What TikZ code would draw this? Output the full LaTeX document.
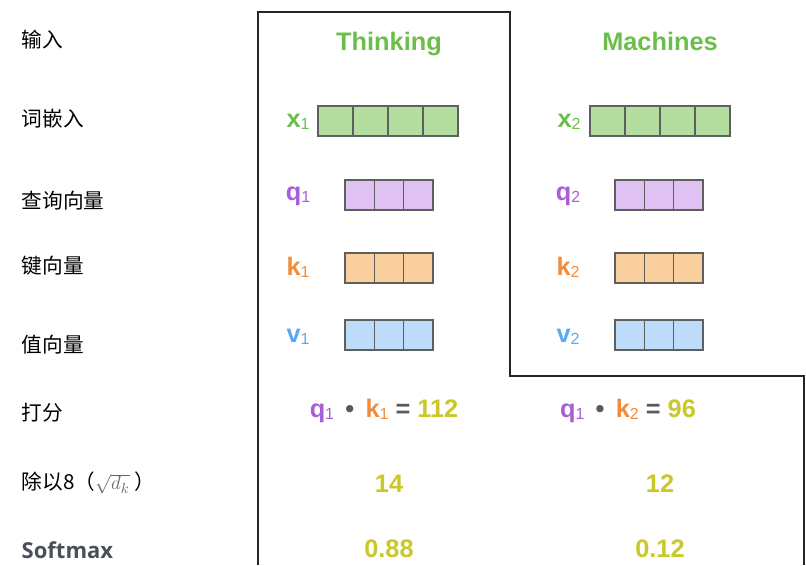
\documentclass[tikz,border=0pt]{standalone}
\usepackage{fontspec}
\setmainfont{Liberation Sans}
\newfontfamily\cjk{Noto Sans CJK SC}
\newfontfamily\softfont{Open Sans}
\usetikzlibrary{positioning}
\usepackage{xcolor}
\definecolor{tWord}{RGB}{108, 190, 74}
\definecolor{cEmb}{RGB}{179, 222, 160}
\definecolor{tQ}{RGB}{167, 94, 214}
\definecolor{cQ}{RGB}{223, 193, 243}
\definecolor{tK}{RGB}{240, 140, 58}
\definecolor{cK}{RGB}{249, 208, 158}
\definecolor{tV}{RGB}{90, 168, 240}
\definecolor{cV}{RGB}{188, 220, 250}
\definecolor{tNum}{RGB}{200, 200, 40}
\definecolor{tOp}{RGB}{85, 90, 95}
\definecolor{bCell}{RGB}{95, 95, 95}
\definecolor{tSoft}{RGB}{75, 80, 88}
\newcommand{\idx}[1]{\raisebox{-1.5pt}{\fontsize{12}{12}\selectfont\mdseries #1}}

\begin{document}
\begin{tikzpicture}[
    x=0.75pt, y=-0.75pt,
    font=\fontsize{19}{20}\selectfont\bfseries,
    rowlabel/.style={anchor=west, font=\cjk\fontsize{15.5}{17}\selectfont, text=black},
    word/.style={text=tWord, anchor=base},
    vlabel/.style={text=#1, inner sep=1pt},
    cell/.style={draw=bCell, line width=0.9pt, fill=#1, minimum height=22.5pt, inner sep=0pt},
    wide/.style={cell=#1, minimum width=26.25pt},
    narrow/.style={cell=#1, minimum width=22pt},
    num/.style={text=tNum},
    frame/.style={draw=black!85, line width=1.5pt}
]
\useasboundingbox (0,0) rectangle (806,565);

% Row labels
\node[rowlabel] (lIn)    at (17,40)  {输入};
\node[rowlabel] (lEmb)   at (17,119) {词嵌入};
\node[rowlabel] (lQ)     at (17,201) {查询向量};
\node[rowlabel] (lK)     at (17,266) {键向量};
\node[rowlabel] (lV)     at (17,345) {值向量};
\node[rowlabel] (lScore) at (17,413) {打分};
\node[rowlabel] (lDiv)   at (17,483) {除以8（{\color{black!60}$\sqrt{d_k}$} ）};
\node[anchor=west, font=\softfont\fontsize{16.5}{18}\selectfont\bfseries, text=tSoft] (lSoft) at (17,550) {Softmax};

% Outline
\draw[frame] (258,565) -- (258,12) -- (510,12) -- (510,376) -- (804,376) -- (804,565);

% Column 1: Thinking
\node[word] (w1) at (389,50) {Thinking};
\foreach \i in {0,...,3}
    \node[wide=cEmb] (x1c\i) at ({335.5+35*\i},121) {};
\foreach \i in {0,1,2} {
    \node[narrow=cQ] (q1c\i) at ({359.7+29.3*\i},195) {};
    \node[narrow=cK] (k1c\i) at ({359.7+29.3*\i},268) {};
    \node[narrow=cV] (v1c\i) at ({359.7+29.3*\i},335) {};
}
\node[vlabel=tWord] (x1) at (298,122) {x\idx{1}};
\node[vlabel=tQ]    (q1) at (298,196) {q\idx{1}};
\node[vlabel=tK]    (k1) at (298,267) {k\idx{1}};
\node[vlabel=tV]    (v1) at (298,337) {v\idx{1}};

% Column 2: Machines
\node[word] (w2) at (660,50) {Machines};
\foreach \i in {0,...,3}
    \node[wide=cEmb] (x2c\i) at ({607.5+35*\i},121) {};
\foreach \i in {0,1,2} {
    \node[narrow=cQ] (q2c\i) at ({629.7+29.3*\i},195) {};
    \node[narrow=cK] (k2c\i) at ({629.7+29.3*\i},268) {};
    \node[narrow=cV] (v2c\i) at ({629.7+29.3*\i},335) {};
}
\node[vlabel=tWord] (x2) at (569,122) {x\idx{2}};
\node[vlabel=tQ]    (q2) at (568,196) {q\idx{2}};
\node[vlabel=tK]    (k2) at (568,267) {k\idx{2}};
\node[vlabel=tV]    (v2) at (568,337) {v\idx{2}};

% Scores
\node (s1) at (384,411) {{\color{tQ}q\idx{1}} \,{\color{tOp}•}\, {\color{tK}k\idx{1}} {\color{tOp}=} {\color{tNum}112}};
\node (s2) at (628,411) {{\color{tQ}q\idx{1}} \,{\color{tOp}•}\, {\color{tK}k\idx{2}} {\color{tOp}=} {\color{tNum}96}};

\node[num] (d1) at (389,484) {14};
\node[num] (d2) at (660,484) {12};
\node[num] (p1) at (389,549) {0.88};
\node[num] (p2) at (660,549) {0.12};

\end{tikzpicture}
\end{document}
